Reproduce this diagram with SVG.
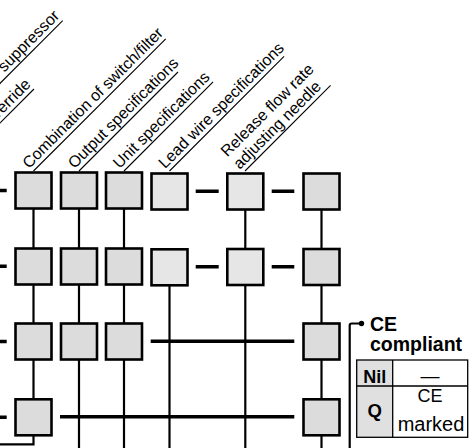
<svg xmlns="http://www.w3.org/2000/svg" width="475" height="448" viewBox="0 0 475 448">
<style>
.lbl{font-family:"Liberation Sans",Arial,sans-serif;font-size:16px;fill:#000}
.ul{stroke:#000;stroke-width:1.1;fill:none}
.v{stroke:#000;stroke-width:2.2;fill:none}
.h{stroke:#000;stroke-width:3.4;fill:none}
.bx{stroke:#000;stroke-width:2.6;fill:#dcdcdc}
.bl{stroke:#000;stroke-width:2.6;fill:#e6e6e6}
.b{font-family:"Liberation Sans",Arial,sans-serif;font-weight:bold;fill:#000}
.r{font-family:"Liberation Sans",Arial,sans-serif;fill:#000}
</style>
<rect width="475" height="448" fill="#fff"/>
<g id="labels">
<g id="label-suppressor" transform="translate(62.7,20.7) rotate(-45)"><line class="ul" x1="-200" y1="0" x2="0" y2="0"/><text class="lbl" x="1" y="-4.5" text-anchor="end">Light/surge voltage suppressor</text></g>
<g id="label-override" transform="translate(34,89) rotate(-45)"><line class="ul" x1="-200" y1="0" x2="0" y2="0"/><text class="lbl" x="1" y="-4.5" text-anchor="end">Manual override</text></g>
<g id="label-combination" transform="translate(33.5,171) rotate(-45)"><line class="ul" x1="0" y1="0" x2="187" y2="0"/><text class="lbl" x="-2" y="-4.5">Combination of switch/filter</text></g>
<g id="label-output" transform="translate(79,171) rotate(-45)"><line class="ul" x1="0" y1="0" x2="140" y2="0"/><text class="lbl" x="-2" y="-4.5">Output specifications</text></g>
<g id="label-unit" transform="translate(124,171) rotate(-45)"><line class="ul" x1="0" y1="0" x2="126" y2="0"/><text class="lbl" x="-2" y="-4.5">Unit specifications</text></g>
<g id="label-lead" transform="translate(169.5,171) rotate(-45)"><line class="ul" x1="0" y1="0" x2="162" y2="0"/><text class="lbl" x="-2" y="-4.5">Lead wire specifications</text></g>
<g id="label-release" transform="translate(245,171) rotate(-45)"><line class="ul" x1="0" y1="0" x2="121" y2="0"/><text class="lbl" x="-3" y="-22">Release flow rate</text><text class="lbl" x="-3" y="-4.5">adjusting needle</text></g>
</g>
<g id="connectors">
<path class="v" d="M33.5,190 V444.3 H0"/>
<path class="v" d="M79,190 V448"/>
<path class="v" d="M124,190 V448"/>
<path class="v" d="M169.5,267 V448"/>
<path class="v" d="M245.3,191 V448"/>
<path class="v" d="M321.5,191 V448"/>
<path class="h" d="M0,190.5 H6.7 M0,266.3 H6.7 M0,341.5 H6.7 M0,417.2 H6.7"/>
<path class="h" d="M195.7,191.3 H218.7 M271.7,191.3 H294.3 M195.7,266.8 H218.7 M271.7,266.8 H294.3"/>
<path class="h" d="M150.7,341.2 H294.3 M60,416.8 H294.3"/>
<path class="v" d="M349.7,448 V325.5 Q349.7,323.5 351.7,323.5 H361"/>
<circle cx="361.5" cy="323.5" r="2.7" fill="#000"/>
</g>
<g id="r1c1"><rect class="bx" x="15.5" y="172.5" width="36" height="36"/></g>
<g id="r1c2"><rect class="bx" x="61" y="172.5" width="36" height="36"/></g>
<g id="r1c3"><rect class="bx" x="106" y="172.5" width="36" height="36"/></g>
<g id="r1c4"><rect class="bl" x="151.5" y="173.5" width="36" height="36"/></g>
<g id="r1c5"><rect class="bl" x="227.3" y="173.5" width="36" height="36"/></g>
<g id="r1c6"><rect class="bx" x="303.5" y="173.5" width="36" height="36"/></g>
<g id="r2c1"><rect class="bx" x="15.5" y="248.5" width="36" height="36"/></g>
<g id="r2c2"><rect class="bx" x="61" y="248.5" width="36" height="36"/></g>
<g id="r2c3"><rect class="bx" x="106" y="248.5" width="36" height="36"/></g>
<g id="r2c4"><rect class="bl" x="151.5" y="249.3" width="36" height="36"/></g>
<g id="r2c5"><rect class="bl" x="227.3" y="249" width="36" height="36"/></g>
<g id="r2c6"><rect class="bx" x="303.5" y="249" width="36" height="36"/></g>
<g id="r3c1"><rect class="bx" x="15.5" y="323.5" width="36" height="36"/></g>
<g id="r3c2"><rect class="bx" x="61" y="323.5" width="36" height="36"/></g>
<g id="r3c3"><rect class="bx" x="106" y="323.5" width="36" height="36"/></g>
<g id="r3c6"><rect class="bx" x="303.5" y="323.5" width="36" height="36"/></g>
<g id="r4c1"><rect class="bx" x="15.5" y="399.3" width="36" height="36"/></g>
<g id="r4c6"><rect class="bx" x="303.5" y="399.3" width="36" height="36"/></g>
<g id="ce">
<text class="b" x="370" y="331" font-size="19.5">CE</text>
<text class="b" x="370" y="351" font-size="19.5">compliant</text>
<rect x="356.7" y="360" width="36" height="77.3" fill="#e0e0e0"/>
<rect x="356.7" y="360" width="111" height="77.3" fill="none" stroke="#000" stroke-width="1.3"/>
<path d="M392.7,360 V437.3 M356.7,386 H467.7" stroke="#000" stroke-width="1.3" fill="none"/>
<text class="b" x="374.7" y="383" font-size="18" text-anchor="middle">Nil</text>
<text class="b" x="374.7" y="417" font-size="18.5" text-anchor="middle">Q</text>
<text class="r" x="430" y="382" font-size="19" text-anchor="middle">—</text>
<text class="r" x="430" y="402" font-size="18" text-anchor="middle">CE</text>
<text class="r" x="431" y="431" font-size="20" text-anchor="middle">marked</text>
</g>
</svg>
